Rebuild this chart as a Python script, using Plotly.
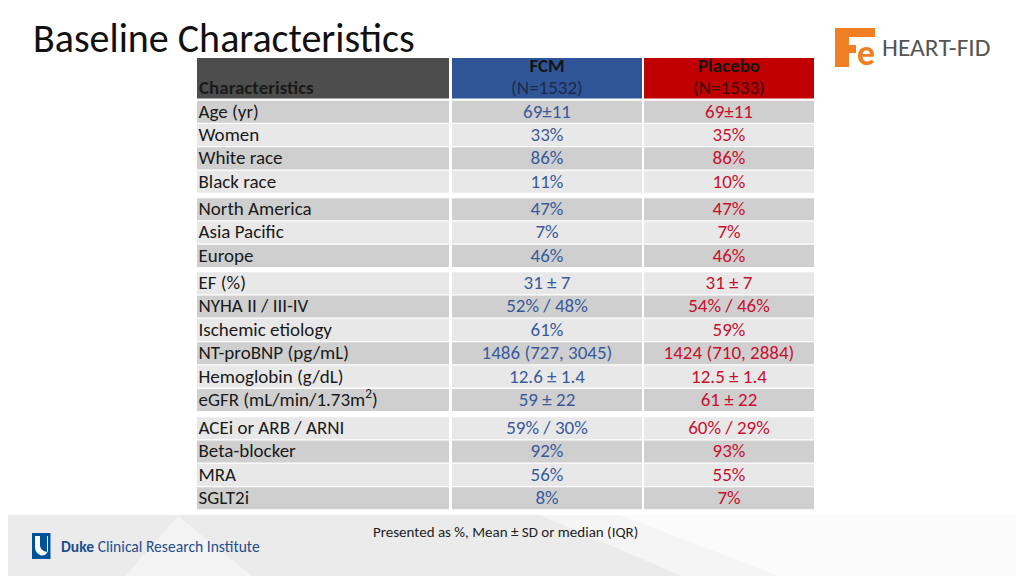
import plotly.graph_objects as go

# ---------------- data ----------------
characteristics = ["Age (yr)", "Women", "White race", "Black race",
                   "North America", "Asia Pacific", "Europe",
                   "EF (%)", "NYHA II / III-IV", "Ischemic etiology", "NT-proBNP (pg/mL)",
                   "Hemoglobin (g/dL)", "eGFR (mL/min/1.73m<sup>2</sup>)",
                   "ACEi or ARB / ARNI", "Beta-blocker", "MRA", "SGLT2i"]
fcm = ["69±11", "33%", "86%", "11%",
       "47%", "7%", "46%",
       "31 ± 7", "52% / 48%", "61%", "1486 (727, 3045)", "12.6 ± 1.4", "59 ± 22",
       "59% / 30%", "92%", "56%", "8%"]
placebo = ["69±11", "35%", "86%", "10%",
           "47%", "7%", "46%",
           "31 ± 7", "54% / 46%", "59%", "1424 (710, 2884)", "12.5 ± 1.4", "61 ± 22",
           "60% / 29%", "93%", "55%", "7%"]
group_sizes = [4, 3, 6, 4]
header_titles = ["Characteristics", "FCM", "Placebo"]
header_n = ["", "(N=1532)", "(N=1533)"]
title_text = "Baseline Characteristics"
footnote = "Presented as %, Mean ± SD or median (IQR)"

# ---------------- style / layout ----------------
W, H = 1024, 576
OFF = 8  # page body margin compensation
FONT = "Carlito, Lato, 'Open Sans', sans-serif"
GRAY, LIGHT = "#cfcfcf", "#e8e8e8"
HDR_FILL = ["#4d4d4d", "#2f5597", "#c00000"]
VAL_COLORS = ["#1a1a1a", "#3a5a9c", "#c8102e"]
COL_EDGES = [197, 451, 643, 815]
ROW_H = 23.35
HDR_TOP, HDR_BOT = 58, 98.5
GROUP_TOPS = [100, 197.5, 271.5, 416.5]
FS = 19
TXT_DY = 1.2

# row geometry
row_centers = []
for g, n in enumerate(group_sizes):
    for k in range(n):
        row_centers.append(GROUP_TOPS[g] + k * ROW_H + ROW_H / 2)
row_fill = [GRAY if r % 2 == 0 else LIGHT for r in range(len(characteristics))]
text_y = [y + TXT_DY for y in row_centers]

fig = go.Figure()

# header cells
hdr_c = (HDR_TOP + HDR_BOT) / 2
for c in range(3):
    fig.add_trace(go.Bar(
        orientation="h", y=[hdr_c], x=[COL_EDGES[c + 1] - COL_EDGES[c] - 2],
        base=[COL_EDGES[c] + (0 if c == 0 else 1)], width=HDR_BOT - HDR_TOP,
        marker=dict(color=HDR_FILL[c], line_width=0), hoverinfo="skip"))

# body cells
for c in range(3):
    fig.add_trace(go.Bar(
        orientation="h", y=row_centers,
        x=[COL_EDGES[c + 1] - COL_EDGES[c] - 2] * len(row_centers),
        base=[COL_EDGES[c] + (0 if c == 0 else 1)] * len(row_centers),
        width=ROW_H - 1.3,
        marker=dict(color=row_fill, line_width=0), hoverinfo="skip"))

# header text
fig.add_trace(go.Scatter(
    x=[COL_EDGES[0] + 2], y=[HDR_BOT - 9.5], mode="text",
    text=["<b>" + header_titles[0] + "</b>"], textposition="middle right",
    textfont=dict(family=FONT, size=FS, color="#1a1a1a"), hoverinfo="skip"))
mids = [(COL_EDGES[c] + COL_EDGES[c + 1]) / 2 for c in range(3)]
fig.add_trace(go.Scatter(
    x=mids[1:], y=[HDR_TOP + 9.5] * 2, mode="text",
    text=["<b>" + t + "</b>" for t in header_titles[1:]], textposition="middle center",
    textfont=dict(family=FONT, size=FS, color="#141414"), hoverinfo="skip"))
fig.add_trace(go.Scatter(
    x=mids[1:], y=[HDR_BOT - 9] * 2, mode="text",
    text=header_n[1:], textposition="middle center",
    textfont=dict(family=FONT, size=FS, color=["#1c2a48", "#3a0a0a"]), hoverinfo="skip"))

# body text
fig.add_trace(go.Scatter(
    x=[COL_EDGES[0] + 1.5] * len(row_centers), y=text_y, mode="text",
    text=characteristics, textposition="middle right",
    textfont=dict(family=FONT, size=FS, color=VAL_COLORS[0]), hoverinfo="skip"))
fig.add_trace(go.Scatter(
    x=[mids[1]] * len(row_centers), y=text_y, mode="text",
    text=fcm, textposition="middle center",
    textfont=dict(family=FONT, size=FS, color=VAL_COLORS[1]), hoverinfo="skip"))
fig.add_trace(go.Scatter(
    x=[mids[2]] * len(row_centers), y=text_y, mode="text",
    text=placebo, textposition="middle center",
    textfont=dict(family=FONT, size=FS, color=VAL_COLORS[2]), hoverinfo="skip"))

shapes = []
# footer band
shapes.append(dict(type="rect", x0=0, x1=W + OFF, y0=515, y1=H + OFF, fillcolor="#ebebeb", line_width=0, layer="below"))
shapes.append(dict(type="path", path="M 118 584 L 178 516 L 262 584 Z", fillcolor="#f3f3f3", line_width=0, layer="below"))
shapes.append(dict(type="path", path="M 540 515 L 1032 515 L 1032 584 L 700 584 Z", fillcolor="#f5f5f5", line_width=0, layer="below"))
shapes.append(dict(type="path", path="M 620 515 L 1032 515 L 1032 584 L 800 584 Z", fillcolor="#fbfbfb", line_width=0, layer="below"))
# Duke shield
shapes.append(dict(type="rect", x0=32, x1=50.5, y0=533, y1=559, fillcolor="#00539b", line_width=0))
shapes.append(dict(type="path",
                   path="M 35 536 L 40 536 L 40 546 Q 41 551 47 552 L 47 536 L 48 536 L 48 551 Q 46 556 41 555.5 Q 35 553 35 547 Z",
                   fillcolor="white", line_width=0))
# Fe logo
ORANGE = "#f07f24"
shapes.append(dict(type="rect", x0=835, x1=875, y0=28, y1=37, fillcolor=ORANGE, line_width=0))
shapes.append(dict(type="rect", x0=835, x1=849, y0=28, y1=67, fillcolor=ORANGE, line_width=0))
shapes.append(dict(type="rect", x0=849, x1=856, y0=45, y1=53, fillcolor=ORANGE, line_width=0))

annotations = [
    dict(x=31, y=38, text=title_text, showarrow=False, xanchor="left", yanchor="middle",
         font=dict(family=FONT, size=40, color="#111111")),
    dict(x=505, y=532, text=footnote, showarrow=False, xanchor="center", yanchor="middle",
         font=dict(family=FONT, size=15, color="#222222")),
    dict(x=59, y=546, text="<b>Duke</b> Clinical Research Institute", showarrow=False,
         xanchor="left", yanchor="middle", font=dict(family=FONT, size=15.6, color="#1f4e8f")),
    dict(x=880, y=47, text="HEART-FID", showarrow=False, xanchor="left", yanchor="middle",
         font=dict(family=FONT, size=25.5, color="#555555")),
    dict(x=866, y=53, text="<b>e</b>", showarrow=False, xanchor="center", yanchor="middle",
         font=dict(family=FONT, size=36, color=ORANGE)),
]

fig.update_layout(
    width=W, height=H, margin=dict(l=0, r=0, t=0, b=0),
    paper_bgcolor="white", plot_bgcolor="white",
    xaxis=dict(range=[OFF, W + OFF], visible=False, domain=[0, 1], fixedrange=True),
    yaxis=dict(range=[H + OFF, OFF], visible=False, domain=[0, 1], fixedrange=True),
    shapes=shapes, annotations=annotations, showlegend=False, barmode="overlay",
)

fig.write_html("out.html")
